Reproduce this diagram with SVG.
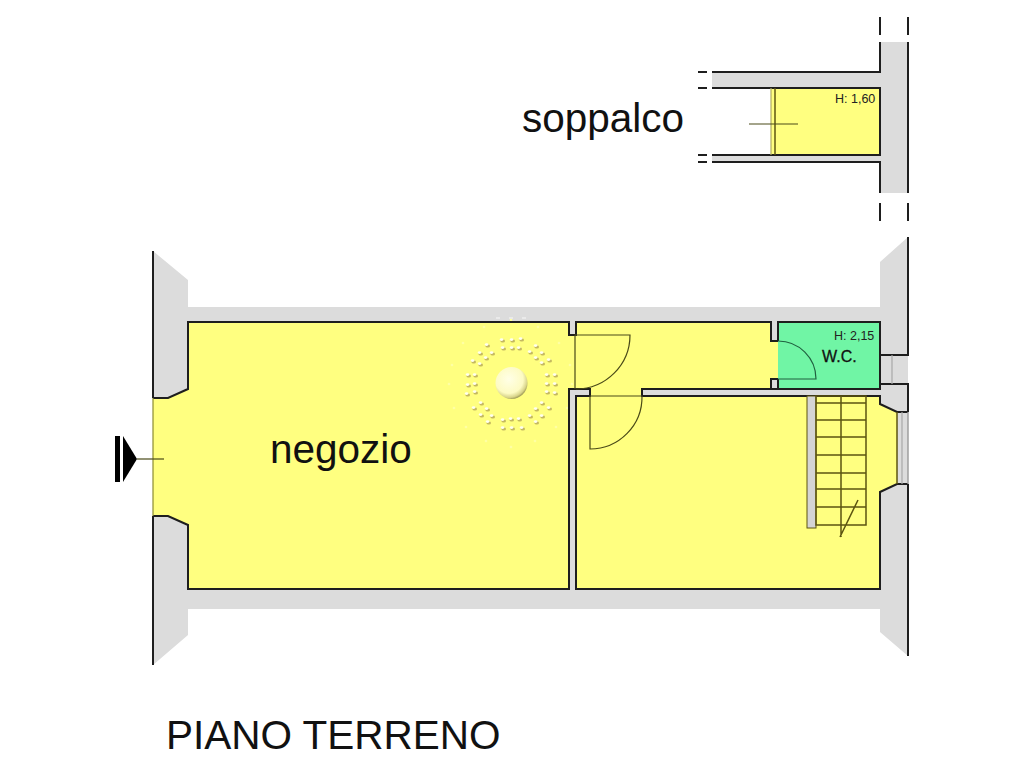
<svg xmlns="http://www.w3.org/2000/svg" xmlns:xlink="http://www.w3.org/1999/xlink" width="1024" height="768" viewBox="0 0 1024 768">
<style>
.wall{fill:#dcdcdc}
.room{fill:#ffff80}
.wc{fill:#70f5a5}
.ln{fill:none;stroke:#1e1e1e;stroke-width:2}
.ol{fill:none;stroke:#5c5410;stroke-width:1.5}
.th{fill:none;stroke:#4a4a18;stroke-width:1.2}
.wn{fill:none;stroke:#a8a8a8;stroke-width:1.2}
text{font-family:"Liberation Sans",Arial,sans-serif;fill:#111}
.big{font-size:40.5px}
.sm{font-size:12.5px;fill:#222}
</style>
<defs>
<radialGradient id="lamp" cx="0.42" cy="0.38" r="0.65">
<stop offset="0" stop-color="#ffffe6"/>
<stop offset="0.68" stop-color="#fdfbc4"/>
<stop offset="0.88" stop-color="#d8d48a"/>
<stop offset="1" stop-color="#8e8a4a"/>
</radialGradient>
<g id="d"><ellipse cx="0.7" cy="0.9" rx="2.3" ry="1.7" fill="#c4b860"/><ellipse cx="-0.4" cy="-0.4" rx="1.8" ry="1.4" fill="#fffff0"/></g>
<circle id="f" r="1.3" fill="#ffffa4"/>
<filter id="soft" x="-5%" y="-5%" width="110%" height="110%"><feGaussianBlur stdDeviation="0.5"/></filter>
</defs>

<!-- soppalco -->
<path class="wall" d="M712 72H880V42H908V193H880V162H712V155H880V88H712Z"/>
<rect class="room" x="771" y="88" width="109" height="67"/>
<path class="ln" d="M712 72H880V42M908 42V193M880 193V162H712M712 155H880V88H712"/>
<path class="ln" d="M698 72H707M698 88H707M698 155H707M698 162H707M880 17V35M908 17V35M880 203V221M908 203V221"/>
<path d="M771 88V155" fill="none" stroke="#b0ac60" stroke-width="1.2"/>
<path class="ol" d="M775 88V155"/>
<path class="th" d="M749 124H798"/>
<text class="sm" x="835" y="103">H: 1,60</text>
<text class="big" x="522" y="132">soppalco</text>

<!-- piano terreno: walls and rooms -->
<path class="wall" d="M153 251L188 280V307H880V262L908 237V656L880 632V609H188V635L153 665Z"/>
<path class="room" d="M153 398H168L188 389V322H569V335H576V322H771V341H778V379H771V389H642V396H880V404L897 412V484L880 492V589H576V396H590V389H569V589H188V525L168 516H153Z"/>
<rect class="wc" x="778" y="322" width="102" height="67"/>

<!-- lamp -->
<g filter="url(#soft)">
<use href="#f" x="511" y="320"/><use href="#f" x="484" y="327"/><use href="#f" x="538" y="327"/><use href="#f" x="463" y="343"/><use href="#f" x="559" y="343"/><use href="#f" x="452" y="365"/><use href="#f" x="570" y="365"/><use href="#f" x="449" y="384"/><use href="#f" x="572" y="384"/><use href="#f" x="454" y="408"/><use href="#f" x="567" y="408"/><use href="#f" x="466" y="427"/><use href="#f" x="556" y="427"/><use href="#f" x="486" y="441"/><use href="#f" x="535" y="441"/><use href="#f" x="511" y="447"/>
<use href="#d" x="502" y="340"/><use href="#d" x="512" y="340"/><use href="#d" x="521" y="339"/><use href="#d" x="503" y="348"/><use href="#d" x="512" y="348"/><use href="#d" x="519" y="348"/>
<use href="#d" x="503" y="428"/><use href="#d" x="512" y="428"/><use href="#d" x="522" y="428"/><use href="#d" x="503" y="420"/><use href="#d" x="511" y="419"/><use href="#d" x="519" y="419"/>
<use href="#d" x="468" y="375"/><use href="#d" x="468" y="385"/><use href="#d" x="467" y="394"/><use href="#d" x="475" y="375"/><use href="#d" x="475" y="384"/><use href="#d" x="475" y="392"/>
<use href="#d" x="555" y="375"/><use href="#d" x="555" y="384"/><use href="#d" x="555" y="393"/><use href="#d" x="547" y="375"/><use href="#d" x="547" y="384"/><use href="#d" x="547" y="392"/>
<use href="#d" x="487" y="345"/><use href="#d" x="480" y="353"/><use href="#d" x="473" y="361"/><use href="#d" x="492" y="353"/><use href="#d" x="486" y="358"/><use href="#d" x="480" y="364"/>
<use href="#d" x="536" y="346"/><use href="#d" x="542" y="353"/><use href="#d" x="549" y="360"/><use href="#d" x="530" y="352"/><use href="#d" x="536" y="358"/><use href="#d" x="542" y="363"/>
<use href="#d" x="474" y="408"/><use href="#d" x="481" y="415"/><use href="#d" x="488" y="422"/><use href="#d" x="481" y="403"/><use href="#d" x="487" y="409"/><use href="#d" x="492" y="416"/>
<use href="#d" x="549" y="408"/><use href="#d" x="542" y="416"/><use href="#d" x="536" y="422"/><use href="#d" x="542" y="403"/><use href="#d" x="536" y="409"/><use href="#d" x="530" y="416"/>
<circle cx="511.5" cy="383" r="16" fill="url(#lamp)"/>
</g>
<path d="M496 318h4M509 318h4M522 318h4" stroke="#eeeeee" stroke-width="1.5"/>

<!-- outlines -->
<path class="ln" d="M153 398H168L188 389V322H569V335H576V322H771V341H778M778 379H771V389H642V396H880V404L897 412H908M908 484H897L880 492V589H576V396H590V389H569V589H188V525L168 516H153"/>
<path class="ln" d="M778 341V322H880V389H778V379"/>
<path class="ln" d="M153 251V398M153 516V665M908 237V355H880M880 384H908V412M908 484V656"/>
<path class="wn" d="M892 355V384M902 412V484"/>
<path d="M908 412V484" fill="none" stroke="#999" stroke-width="1.4"/>
<path class="ol" d="M897 412V484"/>
<path d="M153 398V516" fill="none" stroke="#8a8a30" stroke-width="1.2"/>
<path d="M778 389H642" stroke="#1e1e1e" stroke-width="2"/>

<!-- doors -->
<path class="th" d="M575 389V335H630A54 54 0 0 1 576 389"/>
<path class="th" d="M642 396H590V449A52 52 0 0 0 642 396"/>
<path d="M778 341A38 38 0 0 1 816 379H778" fill="none" stroke="#206040" stroke-width="1.2"/>

<!-- stairs -->
<rect x="807" y="396" width="9" height="132" fill="#d4d4d4" stroke="#5c5410" stroke-width="1"/>
<path class="ol" d="M816 396H866V525H816ZM841 396V537M816 403H866M816 420H866M816 437H866M816 455H866M816 473H866M816 489H866M816 507H866M840 537L858 500"/>

<!-- entry -->
<rect x="115" y="436" width="5" height="46" fill="#000"/>
<path d="M123 436L137 459L123 482Z" fill="#000"/>
<path class="th" d="M137 459H164"/>

<text class="sm" x="834" y="340">H: 2,15</text>
<text x="822" y="362" font-size="16" stroke="#111" stroke-width="0.3">W.C.</text>
<text class="big" x="270" y="463">negozio</text>
<text class="big" x="166" y="749">PIANO TERRENO</text>
</svg>
